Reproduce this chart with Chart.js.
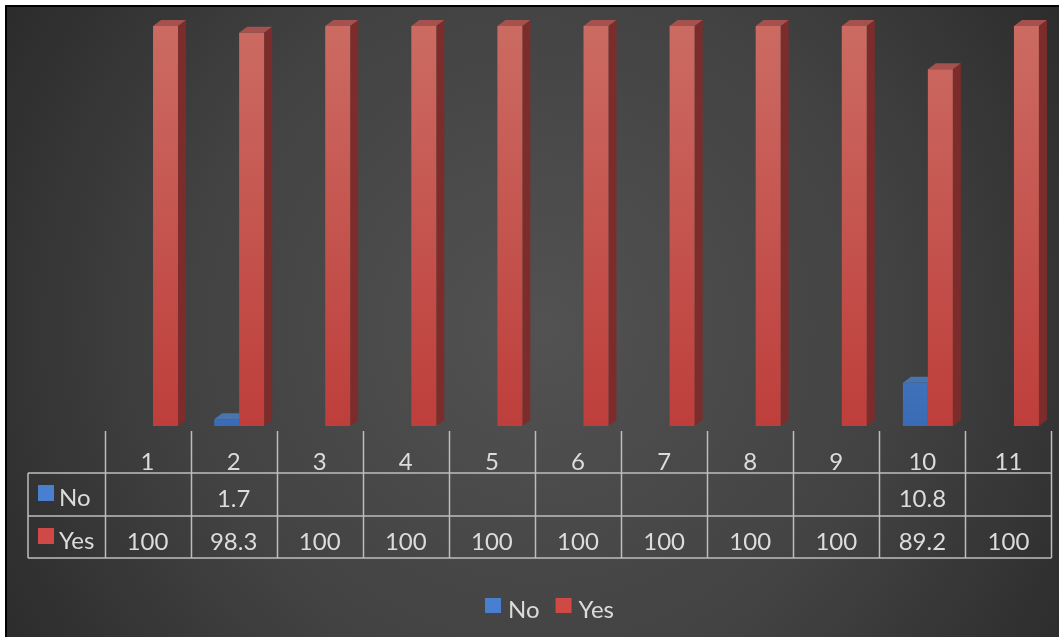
<!DOCTYPE html>
<html>
<head>
<meta charset="utf-8">
<script src="https://cdn.jsdelivr.net/npm/chart.js@4/dist/chart.umd.min.js"></script>
<style>
  html, body { margin: 0; padding: 0; background: #ffffff; }
  #wrap { position: absolute; left: 0; top: 0; width: 1059px; height: 637px; }
</style>
</head>
<body>
<div id="wrap"><canvas id="c" width="1059" height="637"></canvas></div>
<script>
const categories = ['1', '2', '3', '4', '5', '6', '7', '8', '9', '10', '11'];
const noValues  = [null, 1.7, null, null, null, null, null, null, null, 10.8, null];
const yesValues = [100, 98.3, 100, 100, 100, 100, 100, 100, 100, 89.2, 100];
const seriesNames = ['No', 'Yes'];

const FONT = 'Lato, "Open Sans", sans-serif';
const TEXT = '#dcdcdc';
const LINE = '#bdbdbd';

const palette = {
  No:  { top: '#4a74ae', side: '#2f5489', frontA: '#6b98d8', frontB: '#3a6cb6', key: '#4a7fd0' },
  Yes: { top: '#a5514d', side: '#7c2d2b', frontA: '#cb6b62', frontB: '#be3e3b', key: '#cf4a47' }
};

function frontGradient(name) {
  return function (ctx) {
    const chart = ctx.chart;
    const a = chart.chartArea;
    if (!a) return palette[name].frontB;
    const g = chart.ctx.createLinearGradient(0, a.top, 0, a.bottom);
    g.addColorStop(0, palette[name].frontA);
    g.addColorStop(1, palette[name].frontB);
    return g;
  };
}

const DX = 8, DY = 6;

const backgroundPlugin = {
  id: 'bg',
  beforeDraw(chart) {
    const ctx = chart.ctx, W = chart.width, H = chart.height;
    ctx.save();
    ctx.fillStyle = '#ffffff';
    ctx.fillRect(0, 0, W, H);
    ctx.fillStyle = '#000000';
    ctx.fillRect(5, 5, W - 5, H - 5);
    const g = ctx.createRadialGradient(540, 330, 0, 540, 330, 650);
    g.addColorStop(0, '#525252');
    g.addColorStop(0.55, '#424242');
    g.addColorStop(1, '#292929');
    ctx.fillStyle = g;
    ctx.fillRect(7, 7, W - 7, H - 7);
    ctx.restore();
  }
};

const depthPlugin = {
  id: 'depth',
  beforeDatasetsDraw(chart) {
    const ctx = chart.ctx;
    ctx.save();
    chart.data.datasets.forEach((ds, di) => {
      const meta = chart.getDatasetMeta(di);
      const pal = palette[ds.label];
      meta.data.forEach((bar, i) => {
        if (ds.data[i] == null) return;
        const p = bar.getProps(['x', 'y', 'base', 'width'], true);
        const l = p.x - p.width / 2, r = p.x + p.width / 2;
        ctx.fillStyle = pal.side;
        ctx.beginPath();
        ctx.moveTo(r, p.y);
        ctx.lineTo(r + DX, p.y - DY);
        ctx.lineTo(r + DX, p.base - DY);
        ctx.lineTo(r, p.base);
        ctx.closePath();
        ctx.fill();
        ctx.fillStyle = pal.top;
        ctx.beginPath();
        ctx.moveTo(l, p.y);
        ctx.lineTo(l + DX, p.y - DY);
        ctx.lineTo(r + DX, p.y - DY);
        ctx.lineTo(r, p.y);
        ctx.closePath();
        ctx.fill();
      });
    });
    ctx.restore();
  }
};

const tablePlugin = {
  id: 'table',
  afterDraw(chart) {
    const ctx = chart.ctx;
    const xs = chart.scales.x;
    const colW = xs.getPixelForValue(1) - xs.getPixelForValue(0);
    const left = xs.getPixelForValue(0) - colW / 2 - 5.5;
    const n = categories.length;
    const right = left + colW * n;
    const yTop = 431, yRow1 = 473, yRow2 = 516, yBot = 558;
    const keyLeft = 28;
    ctx.save();
    ctx.strokeStyle = LINE;
    ctx.lineWidth = 1.5;
    ctx.beginPath();
    for (let i = 0; i <= n; i++) {
      const x = Math.round(left + i * colW) + 0.5;
      ctx.moveTo(x, yTop);
      ctx.lineTo(x, yBot);
    }
    ctx.moveTo(keyLeft, yRow1); ctx.lineTo(right, yRow1);
    ctx.moveTo(keyLeft, yRow2); ctx.lineTo(right, yRow2);
    ctx.moveTo(keyLeft, yBot); ctx.lineTo(right, yBot);
    ctx.moveTo(keyLeft, yRow1); ctx.lineTo(keyLeft, yBot);
    ctx.stroke();

    ctx.fillStyle = TEXT;
    ctx.font = '24px ' + FONT;
    ctx.textAlign = 'center';
    ctx.textBaseline = 'alphabetic';
    const rows = [noValues, yesValues];
    const baselines = [507, 550];
    for (let i = 0; i < n; i++) {
      const cx = left + (i + 0.5) * colW;
      ctx.fillText(categories[i], cx, 470);
      rows.forEach((arr, ri) => {
        if (arr[i] != null) ctx.fillText(String(arr[i]), cx, baselines[ri]);
      });
    }
    ctx.textAlign = 'left';
    seriesNames.forEach((name, ri) => {
      ctx.fillStyle = palette[name].key;
      ctx.fillRect(38, baselines[ri] - 22, 16, 16);
      ctx.fillStyle = TEXT;
      ctx.fillText(name, 59, baselines[ri] - 1);
    });

    const legendBase = 618;
    let x = 485;
    seriesNames.forEach((name) => {
      ctx.fillStyle = palette[name].key;
      ctx.fillRect(x, 598, 16, 15);
      x += 23;
      ctx.fillStyle = TEXT;
      ctx.fillText(name, x, legendBase);
      x += ctx.measureText(name).width + 16;
    });
    ctx.restore();
  }
};

new Chart(document.getElementById('c'), {
  type: 'bar',
  data: {
    labels: categories,
    datasets: [
      { label: seriesNames[0], data: noValues, backgroundColor: frontGradient('No'), borderWidth: 0 },
      { label: seriesNames[1], data: yesValues, backgroundColor: frontGradient('Yes'), borderWidth: 0 }
    ]
  },
  options: {
    responsive: false,
    animation: false,
    layout: { padding: { left: 110, right: 2, top: 26, bottom: 211 } },
    datasets: { bar: { barPercentage: 1.0, categoryPercentage: 0.58 } },
    scales: {
      x: { display: false, grid: { display: false } },
      y: { display: false, min: 0, max: 100 }
    },
    plugins: {
      legend: { display: false },
      tooltip: { enabled: false }
    }
  },
  plugins: [backgroundPlugin, depthPlugin, tablePlugin]
});
</script>
</body>
</html>
